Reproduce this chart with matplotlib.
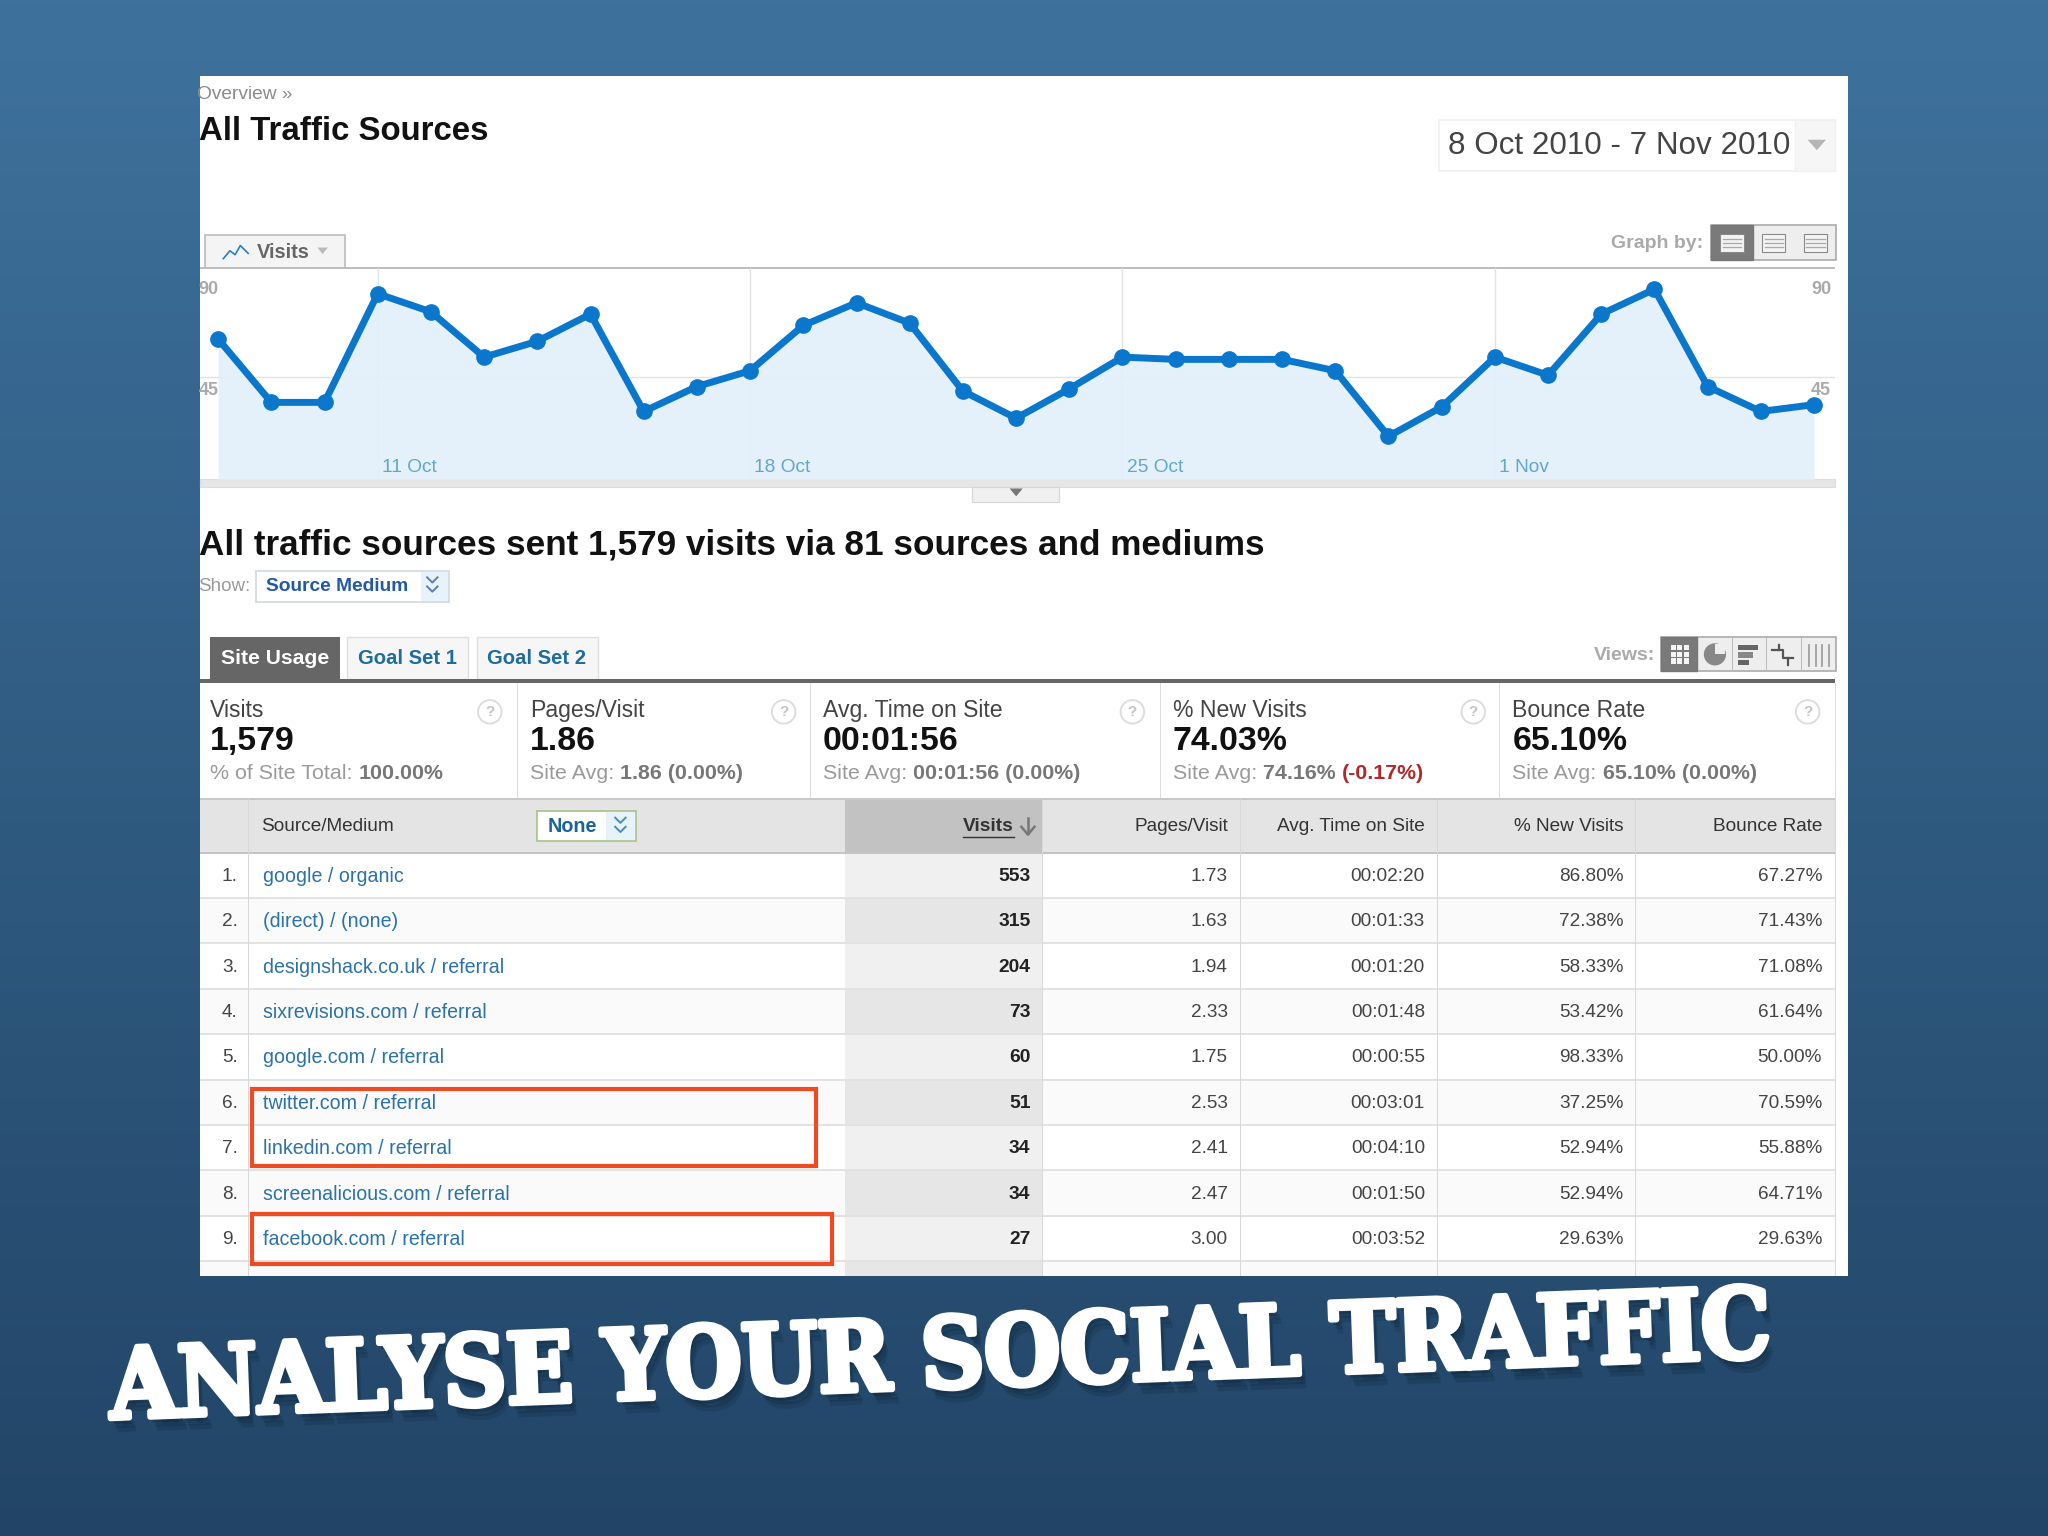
import numpy as np
import matplotlib
matplotlib.use('Agg')
import matplotlib.pyplot as plt
import matplotlib.patheffects as pe
from matplotlib.patches import Rectangle, Circle, Polygon

plt.rcParams['font.family'] = ['Liberation Sans', 'DejaVu Sans']

# daily visits 8 Oct - 7 Nov 2010
visits = [62, 34, 34, 82, 74, 54, 61, 73, 30, 41, 48, 68, 78, 69, 39, 27,
          40, 54, 53, 53, 53, 48, 19, 32, 54, 46, 73, 84, 41, 30, 33]
tick_days = [3, 10, 17, 24]
tick_names = ['11 Oct', '18 Oct', '25 Oct', '1 Nov']

sources = ['google / organic', '(direct) / (none)', 'designshack.co.uk / referral',
           'sixrevisions.com / referral', 'google.com / referral', 'twitter.com / referral',
           'linkedin.com / referral', 'screenalicious.com / referral', 'facebook.com / referral']
row_visits = ['553', '315', '204', '73', '60', '51', '34', '34', '27']
pages = ['1.73', '1.63', '1.94', '2.33', '1.75', '2.53', '2.41', '2.47', '3.00']
times = ['00:02:20', '00:01:33', '00:01:20', '00:01:48', '00:00:55',
         '00:03:01', '00:04:10', '00:01:50', '00:03:52']
new_visits = ['86.80%', '72.38%', '58.33%', '53.42%', '98.33%', '37.25%', '52.94%', '52.94%', '29.63%']
bounce = ['67.27%', '71.43%', '71.08%', '61.64%', '50.00%', '70.59%', '55.88%', '64.71%', '29.63%']

card_labels = ['Visits', 'Pages/Visit', 'Avg. Time on Site', '% New Visits', 'Bounce Rate']
card_values = ['1,579', '1.86', '00:01:56', '74.03%', '65.10%']
card_sub = ['% of Site Total: ', 'Site Avg: ', 'Site Avg: ', 'Site Avg: ', 'Site Avg: ']
card_sub2 = ['100.00%', '1.86 (0.00%)', '00:01:56 (0.00%)', '74.16% ', '65.10% (0.00%)']

W, H = 1568, 1176
fig = plt.figure(figsize=(20.48, 15.36), dpi=100)

ui = fig.add_axes([0, 0, 1, 1], zorder=1)
ui.set_xlim(0, W)
ui.set_ylim(H, 0)
ui.axis('off')

# slide background
top = np.array([0x3e, 0x72, 0x9d]) / 255
bot = np.array([0x22, 0x45, 0x67]) / 255
t = np.linspace(0, 1, 256)[:, None, None]
ui.imshow(top + (bot - top) * t, extent=(0, W, H, 0), aspect='auto', zorder=0)
ui.set_xlim(0, W)
ui.set_ylim(H, 0)


def box(x0, y0, x1, y1, fc='none', ec='none', lw=1.0, z=2):
    r = Rectangle((x0, y0), x1 - x0, y1 - y0, fc=fc, ec=ec, lw=lw, zorder=z)
    ui.add_patch(r)
    return r


panel = box(153, 58, 1415, 977, fc='white')


def txt(x, y, s, size=13, color='#444444', weight='normal', ha='left', z=5):
    # +1: va center sits a little high against the screenshot
    o = ui.text(x, y + 1, s, fontsize=size, color=color, fontweight=weight, ha=ha, va='center', zorder=z)
    o.set_clip_path(panel)
    return o


def tri(x, y, w, h, color):
    ui.add_patch(Polygon([(x - w, y - h), (x + w, y - h), (x, y + h)], fc=color, ec='none', zorder=5))


def chevrons(x, y, color):
    for ys in (y - 6, y + 1):
        ui.plot([x - 4, x, x + 4], [ys, ys + 4, ys], color=color, lw=1.4, zorder=5)


# header
txt(151, 71, 'Overview »', 13.8, '#8a8a8a')
txt(152, 99.5, 'All Traffic Sources', 23.8, '#111111', 'bold')
box(1102, 92, 1405, 131, fc='white', ec='#f0f0f0', lw=1.2)
box(1374, 92, 1405, 131, fc='#f6f6f6', ec='#f0f0f0', lw=1)
txt(1109, 110.5, '8 Oct 2010 - 7 Nov 2010', 22.6, '#444444')
tri(1391, 111, 7, 4, '#b5b5b5')

# chart tab and graph-by buttons
box(157, 180, 264, 205, fc='#f4f4f4', ec='#bbbbbb', lw=1.2)
ui.plot([171, 176, 180, 184, 190], [198, 192, 195, 188, 194], color='#2a7fc0', lw=1.2, zorder=5)
txt(197, 192, 'Visits', 14.4, '#666666', 'bold')
tri(247, 192, 4, 2.5, '#bbbbbb')
txt(1304, 185.5, 'Graph by:', 14, '#aaaaaa', 'bold', ha='right')
box(1310, 172, 1406, 199, fc='#eeeeee', ec='#aaaaaa', lw=1.2)
box(1310, 172, 1342, 199, fc='#7a7a7a', ec='#777777', lw=1)
box(1374, 172, 1374.5, 199, fc='#bbbbbb')
for cx in (1326, 1358, 1390):
    box(cx - 9, 179, cx + 9, 193, fc='#f5f5f5', ec='#8a8a8a', lw=0.8, z=4)
    for ly in (183, 186, 189):
        ui.plot([cx - 7, cx + 7], [ly, ly], color='#aaaaaa', lw=1, zorder=5)

box(153, 204.2, 1405, 205.8, fc='#bdbdbd', z=3)
box(153, 367, 1405, 373, fc='#e6e6e6', ec='#dddddd', lw=0.8)
box(744, 373, 811, 384, fc='#f0f0f0', ec='#d5d5d5', lw=0.8)
tri(778, 377, 5, 3, '#777777')

# line chart on its own axes, 40.73 px per day and 1.733 px per visit
px_day = 40.73
px_visit = 1.733
cax = fig.add_axes([153 / W, 1 - 367 / H, (1405 - 153) / W, (367 - 205) / H], zorder=2)
cax.patch.set_alpha(0)
cax.set_xlim((153 - 167) / px_day, (1405 - 167) / px_day)
cax.set_ylim(0, (367 - 205) / px_visit)
cax.axis('off')
days = np.arange(len(visits))
cax.axhline(45, color='#e2e2e2', lw=1.0, zorder=1)
for d, name in zip(tick_days, tick_names):
    cax.axvline(d, color='#e2e2e2', lw=1.0, zorder=1)
    cax.annotate(name, (d, 0), xytext=(3, 5.5), textcoords='offset points', fontsize=13.8,
                 color='#62a6cc', zorder=6)
cax.fill_between(days, visits, color='#e3f0fa', alpha=0.92, lw=0, zorder=2)
cax.plot(days, visits, color='#0a77cc', lw=5, marker='o', ms=11, mec='#0a77cc', zorder=3, clip_on=False)

for yy, lab in ((221, '90'), (298, '45')):
    txt(152, yy, lab, 13, '#aaaaaa', 'bold', z=6)
    txt(1402, yy, lab, 13, '#aaaaaa', 'bold', ha='right', z=6)

# summary line
txt(152, 416, 'All traffic sources sent 1,579 visits via 81 sources and mediums', 25.3, '#111111', 'bold')
txt(152, 448, 'Show:', 13.5, '#999999')
box(196, 437, 344, 461, fc='white', ec='#cfd8e4', lw=1.2)
box(322, 438, 343, 460, fc='#e8f2fb')
txt(204, 448, 'Source Medium', 13.8, '#2358a8', 'bold')
chevrons(331, 448, '#5a7fb0')

# tabs
box(161, 488, 260, 520, fc='#666666')
txt(169, 503, 'Site Usage', 15.2, 'white', 'bold')
for x0, x1, name in ((266, 358, 'Goal Set 1'), (365, 458, 'Goal Set 2')):
    box(x0, 488, x1, 520, fc='#f6f6f6', ec='#dddddd', lw=1)
    txt(x0 + 8, 503, name, 14.6, '#1f6c9e', 'bold')
txt(1267, 501, 'Views:', 14, '#aaaaaa', 'bold', ha='right')
box(1272, 488, 1406, 514, fc='#eeeeee', ec='#aaaaaa', lw=1.2)
box(1272, 488, 1299, 514, fc='#7a7a7a', ec='#777777', lw=1)
for i in range(3):
    for j in range(3):
        box(1279 + i * 5, 494 + j * 5, 1283 + i * 5, 498 + j * 5, fc='#f5f5f5', z=4)
ui.add_patch(Circle((1313, 501), 8.5, fc='#888888', ec='none', zorder=4))
box(1313, 493, 1321, 501, fc='#eeeeee', z=4)
box(1331, 494, 1346, 498, fc='#666666', z=4)
box(1331, 499.5, 1342, 503.5, fc='#888888', z=4)
box(1331, 505, 1339, 509, fc='#666666', z=4)
ui.plot([1357, 1365, 1365, 1373], [498, 498, 504, 504], color='#555555', lw=1.6, zorder=5)
ui.plot([1362, 1362], [494, 498], color='#555555', lw=1.6, zorder=5)
ui.plot([1369, 1369], [504, 509], color='#555555', lw=1.6, zorder=5)
for xb in (1385, 1390, 1395, 1400):
    ui.plot([xb, xb], [494, 510], color='#999999', lw=1.2, zorder=5)
for xb in (1299, 1326, 1352, 1379):
    box(xb, 488, xb + 0.6, 514, fc='#bbbbbb', z=4)

box(153, 519.5, 1405, 523, fc='#666666', z=3)

# score cards
card_x = [161, 406, 630, 898, 1158]
help_x = [375, 600, 867, 1128, 1384]
for i in range(5):
    txt(card_x[i], 543, card_labels[i], 16.6, '#444444')
    txt(card_x[i], 567, card_values[i], 24.4, '#111111', 'bold')
    a = txt(card_x[i], 591, card_sub[i], 15.4, '#9a9a9a')
    bb = a.get_window_extent().transformed(ui.transData.inverted())
    a2 = txt(bb.x1, 591, card_sub2[i], 15.4, '#777777', 'bold')
    if i == 3:
        bb2 = a2.get_window_extent().transformed(ui.transData.inverted())
        txt(bb2.x1, 591, '(-0.17%)', 15.4, '#b02a2a', 'bold')
    ui.add_patch(Circle((help_x[i], 545), 9, fc='white', ec='#dddddd', lw=1.4, zorder=4))
    txt(help_x[i], 544, '?', 11, '#c4c4c4', 'bold', ha='center')
for x in (396, 620, 888, 1148, 1405):
    box(x, 523, x + 0.8, 612, fc='#dddddd')

# table header
box(153, 612, 1405, 653, fc='#e4e4e4')
box(647, 612, 798, 653, fc='#c2c2c2')
box(153, 611, 1405, 612.5, fc='#c8c8c8', z=3)
box(153, 652, 1405, 654, fc='#c4c4c4', z=3)
txt(200, 632, 'Source/Medium', 13.7, '#333333')
box(411, 621, 487, 644, fc='white', ec='#a9c287', lw=1.2)
box(464, 622, 486, 643, fc='#e8f2fb')
txt(419, 632, 'None', 14.2, '#1c639a', 'bold')
chevrons(475, 632, '#4a8abf')
txt(776, 632, 'Visits', 13.8, '#333333', 'bold', ha='right')
ui.plot([737, 776], [641, 641], color='#333333', lw=1, zorder=5)
ui.plot([787, 787], [626, 638], color='#777777', lw=1.8, zorder=5)
ui.plot([782, 787, 792], [633, 639, 633], color='#777777', lw=1.8, zorder=5)
txt(940, 632, 'Pages/Visit', 13.7, '#333333', ha='right')
txt(1091, 632, 'Avg. Time on Site', 13.7, '#333333', ha='right')
txt(1243, 632, '% New Visits', 13.7, '#333333', ha='right')
txt(1395, 632, 'Bounce Rate', 13.7, '#333333', ha='right')

# table rows
row_h = 34.75
row0 = 653
for i in range(10):
    y0 = row0 + i * row_h
    y1 = min(y0 + row_h, 977)
    box(153, y0, 1405, y1, fc='white' if i % 2 == 0 else '#fafafa')
    box(647, y0, 798, y1, fc='#f0f0f0' if i % 2 == 0 else '#e6e6e6')
    if y1 < 977:
        box(153, y1 - 1, 1405, y1 + 0.6, fc='#e2e2e2', z=3)
for i in range(len(sources)):
    yc = row0 + 17 + i * row_h
    txt(182, yc, f'{i + 1}.', 13.7, '#444444', ha='right')
    txt(201, yc, sources[i], 14.1, '#2b72a6')
    txt(789, yc, row_visits[i], 13.9, '#222222', 'bold', ha='right')
    txt(940, yc, pages[i], 13.7, '#444444', ha='right')
    txt(1091, yc, times[i], 13.7, '#444444', ha='right')
    txt(1243, yc, new_visits[i], 13.7, '#444444', ha='right')
    txt(1395, yc, bounce[i], 13.7, '#444444', ha='right')
for x in (190, 798, 949, 1100, 1252):
    box(x, 612, x + 0.9, 977, fc='#d8d8d8', z=3)
box(1405, 612, 1405.9, 977, fc='#d8d8d8', z=3)

# red highlights
box(193, 834, 625, 893, ec='#ef4a22', lw=3, z=6)
box(193, 929.5, 637, 968, ec='#ef4a22', lw=3, z=6)

# slide title
ttl = ui.text(85, 1086, 'ANALYSE YOUR SOCIAL TRAFFIC', fontsize=70, family='DejaVu Serif', fontweight='bold',
              stretch='condensed', color='white', rotation=2.13, rotation_mode='anchor', ha='left',
              va='baseline', zorder=8)
ttl.set_path_effects([pe.withSimplePatchShadow(offset=(5, -10), shadow_rgbFace='#0c2133', alpha=0.18),
                      pe.withSimplePatchShadow(offset=(4, -7), shadow_rgbFace='#0c2133', alpha=0.22),
                      pe.withSimplePatchShadow(offset=(2, -4), shadow_rgbFace='#0c2133', alpha=0.3),
                      pe.withStroke(linewidth=4, foreground='white')])

fig.savefig('out.png', dpi=100)
